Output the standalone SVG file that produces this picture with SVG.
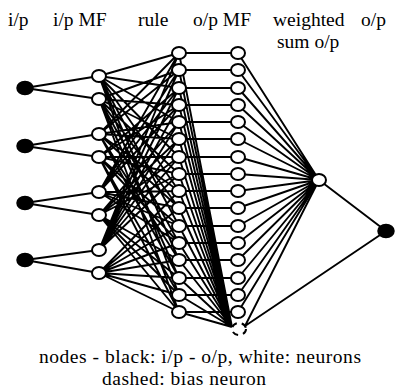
<svg xmlns="http://www.w3.org/2000/svg" width="399" height="392" viewBox="0 0 399 392">
<style>
.t{font-family:"Liberation Serif","Times New Roman",serif;font-size:19.5px;fill:#000}
.e{stroke:#000;stroke-width:1.9;fill:none}
.blk{fill:#000;stroke:#000;stroke-width:1.5}
.wht{fill:#fff;stroke:#000;stroke-width:2}
.bias{fill:none;stroke:#000;stroke-width:2;stroke-dasharray:6 5}
</style>
<rect width="399" height="392" fill="#fff"/>
<g id="labels" font-family="Liberation Serif, Times New Roman, serif">
<text class="t" x="8" y="26">i/p</text>
<text class="t" x="53" y="26">i/p MF</text>
<text class="t" x="138" y="26">rule</text>
<text class="t" x="193" y="26">o/p MF</text>
<text class="t" x="273" y="26">weighted</text>
<text class="t" x="361" y="26">o/p</text>
<text class="t" x="277" y="48">sum o/p</text>
<text class="t" x="200" y="363" text-anchor="middle" textLength="322" lengthAdjust="spacing">nodes - black: i/p - o/p, white: neurons</text>
<text class="t" x="184" y="385" text-anchor="middle" textLength="164" lengthAdjust="spacing">dashed: bias neuron</text>
</g>
<g id="connectors" class="e">
<path d="M25 88L99 76M25 88L99 99M25 146L99 134M25 146L99 157M25 203L99 192M25 203L99 215M25 260L99 250M25 260L99 273"/>
<path d="M99 76L179 53M99 76L179 88M99 76L179 122M99 76L179 157M99 76L179 191M99 76L179 226M99 76L179 260M99 76L179 295
M99 99L179 70M99 99L179 105M99 99L179 139M99 99L179 174M99 99L179 208M99 99L179 243M99 99L179 278M99 99L179 312
M99 134L179 53M99 134L179 70M99 134L179 122M99 134L179 139M99 134L179 191M99 134L179 208M99 134L179 260M99 134L179 278
M99 157L179 88M99 157L179 105M99 157L179 157M99 157L179 174M99 157L179 226M99 157L179 243M99 157L179 295M99 157L179 312
M99 192L179 53M99 192L179 70M99 192L179 88M99 192L179 105M99 192L179 191M99 192L179 208M99 192L179 226M99 192L179 243
M99 215L179 122M99 215L179 139M99 215L179 157M99 215L179 174M99 215L179 260M99 215L179 278M99 215L179 295M99 215L179 312
M99 250L179 53M99 250L179 70M99 250L179 88M99 250L179 105M99 250L179 122M99 250L179 139M99 250L179 157M99 250L179 174
M99 273L179 191M99 273L179 208M99 273L179 226M99 273L179 243M99 273L179 260M99 273L179 278M99 273L179 295M99 273L179 312"/>
<path d="M179 53H238M179 70H238M179 88H238M179 105H238M179 122H238M179 139H238M179 157H238M179 174H238M179 191H238M179 208H238M179 226H238M179 243H238M179 260H238M179 278H238M179 295H238M179 312H238"/>
<path d="M179 53L232 327M179 70L232 327M179 88L232 327M179 105L232 327M179 122L232 327M179 139L232 327M179 157L232 327M179 174L232 327M179 191L232 327M179 208L232 327M179 226L232 327M179 243L232 327M179 260L232 327M179 278L232 327M179 295L232 327M179 312L232 327"/>
<path d="M238 53L319 180M238 70L319 180M238 88L319 180M238 105L319 180M238 122L319 180M238 139L319 180M238 157L319 180M238 174L319 180M238 191L319 180M238 208L319 180M238 226L319 180M238 243L319 180M238 260L319 180M238 278L319 180M238 295L319 180M238 312L319 180"/>
<path d="M245 326L319 180M245 326L386 231M319 180L386 231"/>
</g>
<g id="inputs">
<ellipse class="blk" cx="25" cy="88" rx="8" ry="6.5"/>
<ellipse class="blk" cx="25" cy="146" rx="8" ry="6.5"/>
<ellipse class="blk" cx="25" cy="203" rx="8" ry="6.5"/>
<ellipse class="blk" cx="25" cy="260" rx="8" ry="6.5"/>
</g>
<g id="ip-mf">
<ellipse class="wht" cx="99" cy="76" rx="7" ry="6"/>
<ellipse class="wht" cx="99" cy="99" rx="7" ry="6"/>
<ellipse class="wht" cx="99" cy="134" rx="7" ry="6"/>
<ellipse class="wht" cx="99" cy="157" rx="7" ry="6"/>
<ellipse class="wht" cx="99" cy="192" rx="7" ry="6"/>
<ellipse class="wht" cx="99" cy="215" rx="7" ry="6"/>
<ellipse class="wht" cx="99" cy="250" rx="7" ry="6"/>
<ellipse class="wht" cx="99" cy="273" rx="7" ry="6"/>
</g>
<g id="rules">
<ellipse class="wht" cx="179" cy="53" rx="7" ry="6"/>
<ellipse class="wht" cx="179" cy="70" rx="7" ry="6"/>
<ellipse class="wht" cx="179" cy="88" rx="7" ry="6"/>
<ellipse class="wht" cx="179" cy="105" rx="7" ry="6"/>
<ellipse class="wht" cx="179" cy="122" rx="7" ry="6"/>
<ellipse class="wht" cx="179" cy="139" rx="7" ry="6"/>
<ellipse class="wht" cx="179" cy="157" rx="7" ry="6"/>
<ellipse class="wht" cx="179" cy="174" rx="7" ry="6"/>
<ellipse class="wht" cx="179" cy="191" rx="7" ry="6"/>
<ellipse class="wht" cx="179" cy="208" rx="7" ry="6"/>
<ellipse class="wht" cx="179" cy="226" rx="7" ry="6"/>
<ellipse class="wht" cx="179" cy="243" rx="7" ry="6"/>
<ellipse class="wht" cx="179" cy="260" rx="7" ry="6"/>
<ellipse class="wht" cx="179" cy="278" rx="7" ry="6"/>
<ellipse class="wht" cx="179" cy="295" rx="7" ry="6"/>
<ellipse class="wht" cx="179" cy="312" rx="7" ry="6"/>
</g>
<g id="op-mf">
<ellipse class="wht" cx="238" cy="53" rx="7" ry="6"/>
<ellipse class="wht" cx="238" cy="70" rx="7" ry="6"/>
<ellipse class="wht" cx="238" cy="88" rx="7" ry="6"/>
<ellipse class="wht" cx="238" cy="105" rx="7" ry="6"/>
<ellipse class="wht" cx="238" cy="122" rx="7" ry="6"/>
<ellipse class="wht" cx="238" cy="139" rx="7" ry="6"/>
<ellipse class="wht" cx="238" cy="157" rx="7" ry="6"/>
<ellipse class="wht" cx="238" cy="174" rx="7" ry="6"/>
<ellipse class="wht" cx="238" cy="191" rx="7" ry="6"/>
<ellipse class="wht" cx="238" cy="208" rx="7" ry="6"/>
<ellipse class="wht" cx="238" cy="226" rx="7" ry="6"/>
<ellipse class="wht" cx="238" cy="243" rx="7" ry="6"/>
<ellipse class="wht" cx="238" cy="260" rx="7" ry="6"/>
<ellipse class="wht" cx="238" cy="278" rx="7" ry="6"/>
<ellipse class="wht" cx="238" cy="295" rx="7" ry="6"/>
<ellipse class="wht" cx="238" cy="312" rx="7" ry="6"/>
</g>
<g id="bias">
<ellipse class="bias" cx="239" cy="329" rx="7" ry="6"/>
</g>
<g id="weighted-sum">
<ellipse class="wht" cx="319" cy="180" rx="7" ry="6"/>
</g>
<g id="output">
<ellipse class="blk" cx="386" cy="231" rx="8" ry="6.5"/>
</g>
</svg>
